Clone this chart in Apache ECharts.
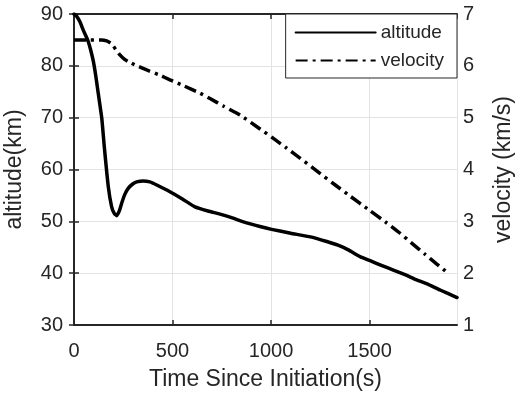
<!DOCTYPE html>
<html>
<head>
<meta charset="utf-8">
<script src="https://cdn.jsdelivr.net/npm/echarts@6/dist/echarts.min.js"></script>
<style>html,body{margin:0;padding:0;background:#fff}#c{width:515px;height:401px}</style>
</head>
<body>
<div id="c"></div>
<script>
// Altitude series (km) vs time (s)
const altTime = [0, 13, 30, 47, 60, 73, 85, 98, 110, 123, 141, 154, 174, 191, 205, 217, 230, 242, 258, 276, 298, 318, 351, 385, 420, 487, 550, 614, 680, 741, 800, 860, 944, 1003, 1100, 1200, 1283, 1340, 1392, 1452, 1503, 1560, 1621, 1680, 1739, 1800, 1858, 1944];
const altValues = [90, 89.6, 88.5, 86.9, 85.8, 84.6, 83.0, 80.9, 78.2, 74.7, 69.9, 64.3, 56.7, 52.8, 51.5, 51.1, 52.0, 53.5, 55.2, 56.4, 57.2, 57.6, 57.8, 57.6, 57.0, 55.7, 54.3, 52.8, 52.0, 51.4, 50.7, 49.9, 49.0, 48.45, 47.7, 47.0, 46.1, 45.4, 44.5, 43.2, 42.4, 41.5, 40.6, 39.7, 38.7, 37.8, 36.75, 35.3];
// Velocity series (km/s) vs time (s)
const velTime = [0, 80, 140, 166, 185, 200, 215, 233, 255, 276, 320, 369, 430, 487, 560, 640, 690, 760, 843, 930, 1012, 1080, 1147, 1230, 1316, 1400, 1497, 1580, 1655, 1720, 1780, 1840, 1892];
const velValues = [6.5, 6.5, 6.5, 6.48, 6.44, 6.38, 6.3, 6.21, 6.13, 6.08, 6.0, 5.92, 5.83, 5.73, 5.61, 5.47, 5.37, 5.22, 5.05, 4.82, 4.60, 4.41, 4.22, 3.98, 3.73, 3.49, 3.22, 2.99, 2.77, 2.56, 2.37, 2.18, 2.02];
// Axis settings
const xMin = 0, xMax = 1944, xStep = 500;
const altMin = 30, altMax = 90, altStep = 10;
const velMin = 1, velMax = 7, velStep = 1;
const seriesNames = ['altitude', 'velocity'];
const xTitle = 'Time Since Initiation(s)';
const yLeftTitle = 'altitude(km)';
const yRightTitle = 'velocity (km/s)';

const FONT = "'Liberation Sans', Arial, Helvetica, sans-serif";
const INK = '#262626';
const GRIDC = '#e3e3e3';

const chart = echarts.init(document.getElementById('c'), null, {renderer: 'canvas'});
const axisLine = {show: true, lineStyle: {color: INK, width: 2}};
const tick = {show: true, inside: true, length: 5, lineStyle: {color: INK, width: 1.5}};
const plain = v => String(v);
chart.setOption({
  animation: false,
  backgroundColor: '#fff',
  grid: {left: 74, right: 58, top: 14, bottom: 76, containLabel: false, outerBoundsMode: 'none'},
  legend: {
    data: seriesNames,
    orient: 'vertical',
    right: 58, top: 14,
    backgroundColor: '#fff',
    borderColor: INK, borderWidth: 1, borderRadius: 0,
    padding: [9, 13, 8, 9],
    itemWidth: 80, itemHeight: 20, itemGap: 9,
    itemStyle: {opacity: 0},
    textStyle: {fontFamily: FONT, fontSize: 19, color: INK}
  },
  xAxis: [{
    type: 'value', min: xMin, max: xMax, interval: xStep,
    position: 'bottom',
    name: xTitle, nameLocation: 'middle', nameGap: 43,
    nameTextStyle: {fontFamily: FONT, fontSize: 23, color: INK},
    axisLine: axisLine, axisTick: tick,
    axisLabel: {fontFamily: FONT, fontSize: 20, color: INK, margin: 16, showMaxLabel: false, formatter: plain},
    splitLine: {show: true, lineStyle: {color: GRIDC, width: 1}}
  }, {
    type: 'value', min: xMin, max: xMax, interval: xStep,
    position: 'top',
    axisLine: axisLine, axisTick: tick,
    axisLabel: {show: false}, splitLine: {show: false}
  }],
  yAxis: [{
    type: 'value', min: altMin, max: altMax, interval: altStep,
    position: 'left',
    name: yLeftTitle, nameLocation: 'middle', nameGap: 48,
    nameTextStyle: {fontFamily: FONT, fontSize: 23, color: INK},
    axisLine: axisLine, axisTick: tick,
    axisLabel: {fontFamily: FONT, fontSize: 20, color: INK, margin: 11, formatter: plain},
    splitLine: {show: true, lineStyle: {color: GRIDC, width: 1}}
  }, {
    type: 'value', min: velMin, max: velMax, interval: velStep,
    position: 'right',
    name: yRightTitle, nameLocation: 'middle', nameGap: 35,
    nameTextStyle: {fontFamily: FONT, fontSize: 23, color: INK},
    axisLine: axisLine, axisTick: tick,
    axisLabel: {fontFamily: FONT, fontSize: 20, color: INK, margin: 6, formatter: plain},
    splitLine: {show: false}
  }],
  series: [{
    name: seriesNames[0], type: 'line', xAxisIndex: 0, yAxisIndex: 0,
    data: altTime.map((t, i) => [t, altValues[i]]),
    showSymbol: false, symbol: 'none', smooth: 0.15,
    lineStyle: {color: '#000', width: 3.5, join: 'round', cap: 'round'}, itemStyle: {color: '#000'}
  }, {
    name: seriesNames[1], type: 'line', xAxisIndex: 0, yAxisIndex: 1,
    data: velTime.map((t, i) => [t, velValues[i]]),
    showSymbol: false, symbol: 'none', smooth: 0.15,
    lineStyle: {color: '#000', width: 3.5, type: [12, 5, 3, 5]}, itemStyle: {color: '#000'}
  }]
});
</script>
</body>
</html>
